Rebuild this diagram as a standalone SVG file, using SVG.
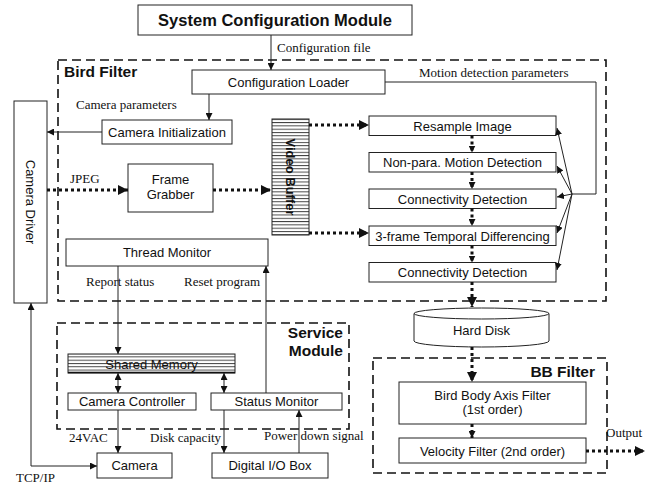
<svg xmlns="http://www.w3.org/2000/svg" width="656" height="489" viewBox="0 0 656 489">
  <defs>
    <style>
      .box { fill: #fff; stroke: #222; stroke-width: 1; }
      .grp { fill: none; stroke: #111; stroke-width: 1.6; stroke-dasharray: 9 5; }
      .lbl { font-family: "Liberation Sans", Arial, sans-serif; font-size: 13px; fill: #111; text-anchor: middle; }
      .ttl { font-family: "Liberation Sans", Arial, sans-serif; font-weight: bold; font-size: 15.5px; fill: #111; }
      .note { font-family: "Liberation Serif", "Times New Roman", serif; font-size: 13px; fill: #111; }
      .thin { fill: none; stroke: #222; stroke-width: 1; }
      .dot { fill: none; stroke: #111; stroke-width: 3; stroke-dasharray: 3 3; }
    </style>
    <marker id="ah" viewBox="0 0 10 10" refX="10" refY="5" markerWidth="7" markerHeight="7" markerUnits="userSpaceOnUse" orient="auto-start-reverse">
      <path d="M0,0 L10,5 L0,10 z" fill="#111"/>
    </marker>
    <marker id="ahb" viewBox="0 0 10 10" refX="10" refY="5" markerWidth="10" markerHeight="10" markerUnits="userSpaceOnUse" orient="auto">
      <path d="M0,0 L10,5 L0,10 z" fill="#111"/>
    </marker>
    <pattern id="stripes" width="4" height="3.3" patternUnits="userSpaceOnUse">
      <rect width="4" height="3.3" fill="#fff"/>
      <line x1="0" y1="0.5" x2="4" y2="0.5" stroke="#333" stroke-width="0.9"/>
    </pattern>
  </defs>

  <!-- grouping frames -->
  <g id="bird-filter">
    <rect class="grp" x="58" y="60" width="548" height="241"/>
    <text class="ttl" x="64" y="77">Bird Filter</text>
  </g>
  <g id="service-module">
    <rect class="grp" x="57" y="323" width="292" height="106"/>
    <text class="ttl" x="343" y="338" text-anchor="end">Service</text>
    <text class="ttl" x="343" y="356" text-anchor="end">Module</text>
  </g>
  <g id="bb-filter">
    <rect class="grp" x="373" y="358" width="234" height="115"/>
    <text class="ttl" x="595" y="377" text-anchor="end">BB Filter</text>
  </g>

  <!-- nodes -->
  <g id="system-config">
    <rect class="box" x="138" y="5" width="274" height="30"/>
    <text class="lbl" x="275" y="26" style="font-weight:bold;font-size:16.5px">System Configuration Module</text>
  </g>
  <g id="config-loader">
    <rect class="box" x="192" y="70" width="193" height="24"/>
    <text class="lbl" x="288.5" y="86.5">Configuration Loader</text>
  </g>
  <g id="camera-init">
    <rect class="box" x="102" y="120" width="130" height="24"/>
    <text class="lbl" x="167" y="136.5">Camera Initialization</text>
  </g>
  <g id="camera-driver">
    <rect class="box" x="14" y="101" width="33" height="202"/>
    <text class="lbl" transform="translate(30,202) rotate(90)" x="0" y="4.5">Camera Driver</text>
  </g>
  <g id="frame-grabber">
    <rect class="box" x="128" y="164" width="85" height="48"/>
    <text class="lbl" x="170.5" y="184">Frame</text>
    <text class="lbl" x="170.5" y="199">Grabber</text>
  </g>
  <g id="video-buffer">
    <rect x="272" y="119" width="37" height="116" fill="url(#stripes)" stroke="#222" stroke-width="1"/>
    <text class="lbl" transform="translate(290.5,177) rotate(90)" x="0" y="4.5" font-weight="bold">Video Buffer</text>
  </g>
  <g id="thread-monitor">
    <rect class="box" x="66" y="239" width="202" height="27"/>
    <text class="lbl" x="167" y="257">Thread Monitor</text>
  </g>
  <g id="resample">
    <rect class="box" x="369" y="116" width="187" height="19.5"/>
    <text class="lbl" x="462.5" y="130.5">Resample Image</text>
  </g>
  <g id="motion-detection">
    <rect class="box" x="369" y="152.5" width="187" height="19.5"/>
    <text class="lbl" x="462.5" y="167">Non-para. Motion Detection</text>
  </g>
  <g id="connectivity-1">
    <rect class="box" x="369" y="189" width="187" height="19.5"/>
    <text class="lbl" x="462.5" y="203.5">Connectivity Detection</text>
  </g>
  <g id="temporal-diff">
    <rect class="box" x="369" y="226" width="187" height="19.5"/>
    <text class="lbl" x="462.5" y="240.5">3-frame Temporal Differencing</text>
  </g>
  <g id="connectivity-2">
    <rect class="box" x="369" y="262.5" width="187" height="19.5"/>
    <text class="lbl" x="462.5" y="277">Connectivity Detection</text>
  </g>
  <g id="hard-disk">
    <path class="box" d="M414,313.5 L414,341 A67.5,6 0 0 0 549,341 L549,313.5 A67.5,5.5 0 0 0 414,313.5 Z"/>
    <path class="thin" d="M414,313.5 A67.5,5.5 0 0 0 549,313.5" stroke="#777"/>
    <text class="lbl" x="481.5" y="335">Hard Disk</text>
  </g>
  <g id="body-axis-filter">
    <rect class="box" x="399" y="382" width="187" height="42"/>
    <text class="lbl" x="492.5" y="400">Bird Body Axis Filter</text>
    <text class="lbl" x="492.5" y="414">(1st order)</text>
  </g>
  <g id="velocity-filter">
    <rect class="box" x="399" y="438" width="187" height="25"/>
    <text class="lbl" x="492.5" y="455.5">Velocity Filter (2nd order)</text>
  </g>
  <g id="shared-memory">
    <rect x="68" y="354" width="167" height="19" fill="url(#stripes)" stroke="#222" stroke-width="1"/>
    <line x1="68" y1="372.5" x2="235" y2="372.5" stroke="#111" stroke-width="1.6"/>
    <text class="lbl" x="151.5" y="368.5">Shared Memory</text>
  </g>
  <g id="camera-controller">
    <rect class="box" x="68" y="393" width="128" height="17"/>
    <text class="lbl" x="132" y="406">Camera Controller</text>
  </g>
  <g id="status-monitor">
    <rect class="box" x="211" y="393" width="131" height="17"/>
    <text class="lbl" x="276.5" y="406">Status Monitor</text>
  </g>
  <g id="camera">
    <rect class="box" x="97" y="453" width="75" height="25"/>
    <text class="lbl" x="134.5" y="470">Camera</text>
  </g>
  <g id="digital-io">
    <rect class="box" x="212" y="453" width="116" height="25"/>
    <text class="lbl" x="270" y="470">Digital I/O Box</text>
  </g>

  <!-- connectors -->
  <g id="connectors">
    <line class="thin" x1="271" y1="35" x2="271" y2="70" marker-end="url(#ah)"/>
    <line class="thin" x1="209" y1="94" x2="209" y2="120" marker-end="url(#ah)"/>
    <line class="thin" x1="102" y1="132" x2="47" y2="132" marker-end="url(#ah)"/>
    <polyline class="thin" points="385,82 596,82 596,194 572,194"/>
    <line class="thin" x1="572" y1="194" x2="557" y2="128" marker-end="url(#ah)"/>
    <line class="thin" x1="572" y1="194" x2="557" y2="166" marker-end="url(#ah)"/>
    <line class="thin" x1="572" y1="194" x2="557" y2="197" marker-end="url(#ah)"/>
    <line class="thin" x1="572" y1="194" x2="557" y2="233" marker-end="url(#ah)"/>
    <line class="thin" x1="572" y1="194" x2="557" y2="270" marker-end="url(#ah)"/>

    <line class="dot" x1="47" y1="190" x2="128" y2="190" marker-end="url(#ahb)"/>
    <line class="dot" x1="213" y1="190" x2="271" y2="190" marker-end="url(#ahb)"/>
    <line class="dot" x1="309" y1="125" x2="369" y2="125" marker-end="url(#ahb)"/>
    <line class="dot" x1="309" y1="233" x2="369" y2="233" marker-end="url(#ahb)"/>
    <line class="dot" x1="472" y1="135.5" x2="472" y2="152.5" marker-end="url(#ah)"/>
    <line class="dot" x1="472" y1="172" x2="472" y2="189" marker-end="url(#ah)"/>
    <line class="dot" x1="472" y1="208.5" x2="472" y2="226" marker-end="url(#ah)"/>
    <line class="dot" x1="472" y1="245.5" x2="472" y2="262.5" marker-end="url(#ah)"/>
    <line class="dot" x1="472" y1="282" x2="472" y2="307" marker-end="url(#ahb)"/>
    <line class="dot" x1="472" y1="347" x2="472" y2="382" marker-end="url(#ahb)"/>
    <line class="dot" x1="472" y1="424" x2="472" y2="438" marker-end="url(#ah)"/>
    <line class="dot" x1="586" y1="451" x2="645" y2="451" marker-end="url(#ahb)"/>

    <line class="thin" x1="118" y1="266" x2="118" y2="354" marker-end="url(#ah)"/>
    <line class="thin" x1="266" y1="393" x2="266" y2="266" marker-end="url(#ah)"/>
    <line class="thin" x1="118" y1="373" x2="118" y2="393" marker-start="url(#ah)" marker-end="url(#ah)"/>
    <line class="thin" x1="224" y1="373" x2="224" y2="393" marker-start="url(#ah)" marker-end="url(#ah)"/>
    <line class="thin" x1="118" y1="410" x2="118" y2="453" marker-end="url(#ah)"/>
    <line class="thin" x1="224" y1="410" x2="224" y2="453" marker-end="url(#ah)"/>
    <line class="thin" x1="299" y1="453" x2="299" y2="410" marker-end="url(#ah)"/>
    <polyline class="thin" points="31,303 31,466 97,466" marker-start="url(#ah)" marker-end="url(#ah)"/>

    <text class="note" x="277" y="52">Configuration file</text>
    <text class="note" x="419" y="77">Motion detection parameters</text>
    <text class="note" x="76" y="109">Camera parameters</text>
    <text class="note" x="70" y="183">JPEG</text>
    <text class="note" x="86" y="286">Report status</text>
    <text class="note" x="184" y="286">Reset program</text>
    <text class="note" x="69" y="442">24VAC</text>
    <text class="note" x="150" y="442">Disk capacity</text>
    <text class="note" x="264" y="440">Power down signal</text>
    <text class="note" x="16" y="482">TCP/IP</text>
    <text class="note" x="606" y="437">Output</text>
  </g>
</svg>
